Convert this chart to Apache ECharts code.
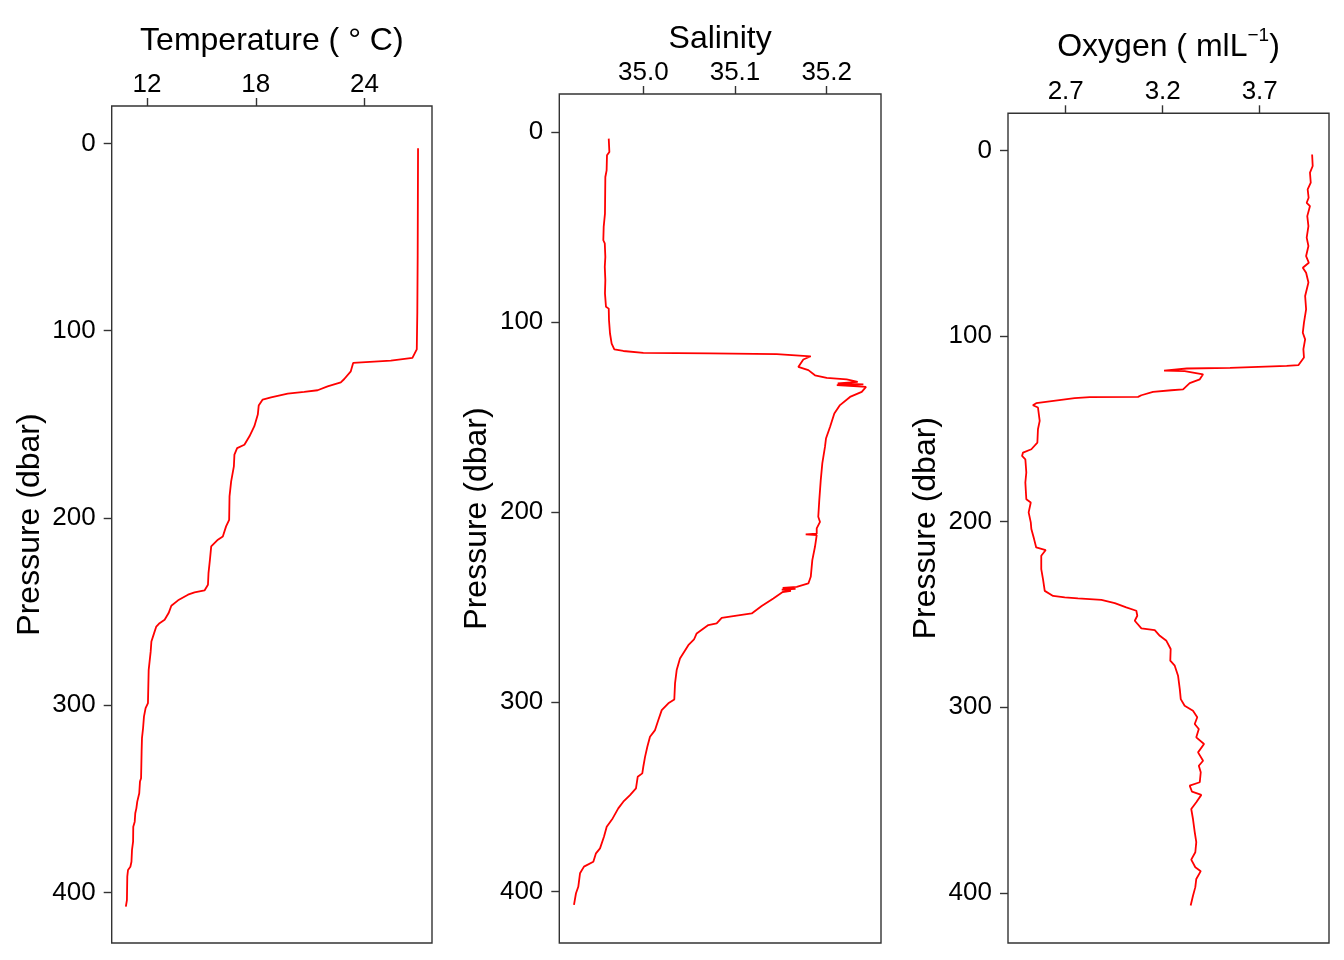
<!DOCTYPE html>
<html lang="en">
<head>
	<meta charset="UTF-8">
	<title>CTD profiles</title>
	<script src="https://cdn.jsdelivr.net/npm/echarts@6/dist/echarts.min.js"></script>
	<style>
		html, body { margin: 0; padding: 0; background: #fff; }
		#charts { width: 1344px; height: 960px; }
	</style>
</head>
<body>
<div id="charts"></div>
<script>
	// temperature profile (pressure in dbar, temperature in deg C)
	var tempPressure = [2.6, 30, 60, 90, 110, 114.5, 116, 117.2, 121.7, 125.8, 127.6, 129.7, 131.8, 132.7, 133.6, 135.6, 136.8, 140, 144.8, 151,
		156.4, 160.9, 162.7, 166.2, 172.5, 180.5, 188.5, 201, 204.5, 209.9, 211.6, 215.2, 222.3, 229.5, 235.7, 238.7, 239.8, 241, 244, 246.9,
		250.8, 254.4, 256.2, 258, 261.5, 266, 271.4, 276.7, 281.1, 298.9, 301.6, 306.1, 312.3, 317.6, 324.8, 339, 340.8, 347, 351.5, 355.1,
		357.7, 362.2, 364.9, 372.9, 377.3, 383.6, 386.3, 388, 391.6, 404.1, 407.6];
	var tempValues = [26.95, 26.94, 26.93, 26.91, 26.88, 26.64, 25.45, 23.37, 23.24, 22.88, 22.69, 21.96, 21.41, 20.67, 19.76, 18.84, 18.38, 18.16, 18.11, 17.92,
		17.65, 17.37, 16.97, 16.82, 16.79, 16.64, 16.55, 16.53, 16.36, 16.18, 15.91, 15.54, 15.47, 15.39, 15.36, 15.17, 14.62, 14.26, 13.71, 13.34,
		13.19, 12.97, 12.69, 12.51, 12.39, 12.24, 12.20, 12.14, 12.09, 12.05, 11.92, 11.83, 11.78, 11.72, 11.70, 11.67, 11.61, 11.57, 11.46, 11.41,
		11.35, 11.32, 11.24, 11.23, 11.17, 11.14, 11.08, 10.95, 10.91, 10.89, 10.83];

	// salinity profile
	var salPressure = [3.5, 10.5, 12.3, 20.2, 23.7, 43, 50, 57, 58.7, 65.8, 71, 78, 85, 92, 93, 99.1, 106.1, 111.4, 114.5, 115.3,
		116.3, 116.6, 117, 118.1, 119.8, 123.7, 124.7, 125.4, 128.1, 129.5, 130.3, 131.6, 132.4, 132.9, 133.3, 134.2, 136.8, 139.5, 143.8, 148.2,
		155.3, 161.4, 165.8, 174.5, 183.3, 193.8, 202.6, 205.3, 208.7, 211.5, 211.9, 212.3, 218.4, 225.4, 234.2, 237.7, 239.5, 240.0, 240.5, 241.0,
		241.6, 242.2, 245.6, 249.6, 253.5, 254.9, 255.8, 258.7, 259.6, 264, 267.2, 270.2, 277.2, 283.3, 290.3, 298.8, 300.8, 304.4, 309.6, 314.9,
		318.4, 323.7, 329, 334.2, 337.7, 339.5, 345.6, 349.1, 352.6, 356.1, 361.4, 365.8, 371.1, 377.2, 379.8, 384.2, 386.8, 390.3, 397.4, 400.8, 406.9];
	var salValues = [34.9623, 34.963, 34.9604, 34.960, 34.9586, 34.9582, 34.9568, 34.9564, 34.958, 34.9586, 34.958, 34.9586, 34.9582, 34.9593, 34.9623, 34.9626, 34.9637, 34.9655, 34.9684, 34.9782,
		35.000, 35.0727, 35.1455, 35.1826, 35.1745, 35.169, 35.1709, 35.18, 35.1872, 35.2, 35.2218, 35.2338, 35.212, 35.240, 35.211, 35.2429, 35.2382, 35.2254, 35.2145, 35.2083,
		35.2036, 35.1992, 35.1981, 35.1952, 35.1935, 35.1919, 35.1908, 35.1927, 35.1891, 35.1891, 35.1771, 35.1891, 35.1872, 35.1843, 35.1826, 35.18, 35.1673, 35.152, 35.166, 35.151,
		35.161, 35.152, 35.1418, 35.1291, 35.1182, 35.0981, 35.0855, 35.08, 35.0709, 35.0582, 35.0553, 35.0491, 35.04, 35.0364, 35.0346, 35.0338, 35.0273, 35.0201, 35.0164, 35.0128,
		35.0073, 35.0044, 35.0019, 35.000, 34.9989, 34.9939, 34.992, 34.9855, 34.9782, 34.9727, 34.9666, 34.9601, 34.9571, 34.9528, 34.9484, 34.9455, 34.9353, 34.931, 34.9291, 34.9266, 34.9244];

	// oxygen profile
	var oxyPressure = [2.2, 8.4, 12, 17.4, 21, 25.5, 28.2, 30, 35.4, 40.8, 47, 51.5, 56.9, 60.5, 63.2, 65.9, 71.2, 78.4, 85.6, 92.8,
		98.2, 101.8, 107.1, 111.6, 115.7, 116.1, 117.2, 117.5, 118.6, 118.9, 120.6, 123.3, 125.4, 128.7, 129.2, 130.1, 131.9, 132.8, 132.9, 133.5,
		134.4, 136.2, 137.3, 138.5, 145.7, 150.2, 157.4, 161, 162.8, 164.6, 166.4, 173.5, 178.9, 187.9, 189.7, 195, 200.4, 204, 209.4, 213.9,
		215.3, 218.4, 225.6, 231, 237.3, 240, 240.8, 241.3, 242.1, 243.9, 246.2, 248, 250.7, 253.4, 257.5, 258.4, 261.5, 264.2, 268.6, 274.9,
		277.6, 283, 290.2, 295.6, 299.2, 301.9, 305.4, 309, 311.7, 316.2, 319.8, 324.3, 328.8, 331.5, 335, 340.4, 342.2, 345.5, 347.2, 351.2,
		354.8, 360.2, 367.3, 372.7, 378.1, 382.1, 386.2, 388.3, 392.5, 396.9, 401.5, 406.8];
	var oxyValues = [3.970, 3.973, 3.959, 3.963, 3.947, 3.952, 3.942, 3.959, 3.945, 3.951, 3.942, 3.951, 3.939, 3.953, 3.922, 3.939, 3.951, 3.934, 3.939, 3.928,
		3.922, 3.934, 3.925, 3.928, 3.899, 3.839, 3.547, 3.324, 3.207, 3.313, 3.408, 3.391, 3.339, 3.305, 3.244, 3.150, 3.090, 3.073, 2.824, 2.746,
		2.677, 2.548, 2.531, 2.557, 2.566, 2.557, 2.554, 2.523, 2.480, 2.475, 2.492, 2.497, 2.492, 2.497, 2.520, 2.509, 2.520, 2.523, 2.537, 2.548,
		2.597, 2.574, 2.574, 2.583, 2.592, 2.635, 2.695, 2.763, 2.884, 2.953, 3.012, 3.064, 3.069, 3.056, 3.090, 3.159, 3.185, 3.219, 3.241, 3.239,
		3.262, 3.279, 3.288, 3.293, 3.313, 3.356, 3.378, 3.365, 3.386, 3.373, 3.413, 3.382, 3.408, 3.386, 3.396, 3.391, 3.339, 3.351, 3.399, 3.373,
		3.347, 3.356, 3.365, 3.373, 3.368, 3.347, 3.368, 3.396, 3.373, 3.368, 3.356, 3.344];

	// tick labels
	var pressureTicks = [0, 100, 200, 300, 400];
	var tempTicks = [12, 18, 24];
	var salTicks = [35.0, 35.1, 35.2];
	var oxyTicks = [2.7, 3.2, 3.7];

	var fontFamily = '"Liberation Sans", Arial, sans-serif';
	var frameColor = '#333333';

	function pairs(xs, ps) {
		var out = [];
		for (var i = 0; i < xs.length; i++) {
			out.push([xs[i], ps[i]]);
		}
		return out;
	}

	var panels = [
		{left: 111.7, top: 106, width: 320.3, min: 10.05, max: 27.72, ticks: tempTicks, digits: 0,
			name: 'Temperature ( ° C)', nameGap: 49, data: pairs(tempValues, tempPressure)},
		{left: 559.3, top: 94, width: 321.7, min: 34.9084, max: 35.2592, ticks: salTicks, digits: 1,
			name: 'Salinity', nameGap: 36, data: pairs(salValues, salPressure)},
		{left: 1008, top: 113.3, width: 321, min: 2.4026, max: 4.057, ticks: oxyTicks, digits: 1,
			name: '{n|Oxygen ( mlL}{s|−1}{n|)}', nameGap: 46, data: pairs(oxyValues, oxyPressure)}
	];

	var grids = [], xAxes = [], yAxes = [], series = [];
	panels.forEach(function (p, i) {
		grids.push({
			left: p.left, top: p.top, width: p.width, height: 943 - p.top,
			show: true, borderColor: frameColor, borderWidth: 1.4, backgroundColor: '#fff'
		});
		xAxes.push({
			gridIndex: i, type: 'value', position: 'top',
			min: p.min, max: p.max,
			name: p.name, nameLocation: 'middle', nameGap: p.nameGap,
			nameTextStyle: {
				color: '#000', fontSize: 32, fontFamily: fontFamily,
				rich: {
					n: {color: '#000', fontSize: 32, fontFamily: fontFamily},
					s: {color: '#000', fontSize: 19, fontFamily: fontFamily, verticalAlign: 'top', padding: [0, 0, 22, 0]}
				}
			},
			axisLine: {show: false, onZero: false},
			splitLine: {show: false},
			axisTick: {show: true, inside: false, length: 8, lineStyle: {color: frameColor, width: 1.4}, customValues: p.ticks},
			axisLabel: {
				color: '#000', fontSize: 26, fontFamily: fontFamily, margin: 8,
				customValues: p.ticks,
				formatter: (function (d) { return function (v) { return v.toFixed(d); }; })(p.digits)
			}
		});
		yAxes.push({
			gridIndex: i, type: 'value', inverse: true,
			min: -20, max: 427,
			name: 'Pressure (dbar)', nameLocation: 'middle', nameGap: 66,
			nameTextStyle: {color: '#000', fontSize: 32, fontFamily: fontFamily},
			axisLine: {show: false, onZero: false},
			splitLine: {show: false},
			axisTick: {show: true, inside: false, length: 8, lineStyle: {color: frameColor, width: 1.4}, customValues: pressureTicks},
			axisLabel: {color: '#000', fontSize: 26, fontFamily: fontFamily, margin: 16, customValues: pressureTicks}
		});
		series.push({
			type: 'line', xAxisIndex: i, yAxisIndex: i,
			data: p.data, showSymbol: false, symbol: 'none',
			lineStyle: {color: '#ff0000', width: 1.8},
			clip: true
		});
	});

	var chart = echarts.init(document.getElementById('charts'), null, {renderer: 'canvas'});
	chart.setOption({
		animation: false,
		backgroundColor: '#fff',
		grid: grids,
		xAxis: xAxes,
		yAxis: yAxes,
		series: series
	});
</script>
</body>
</html>
